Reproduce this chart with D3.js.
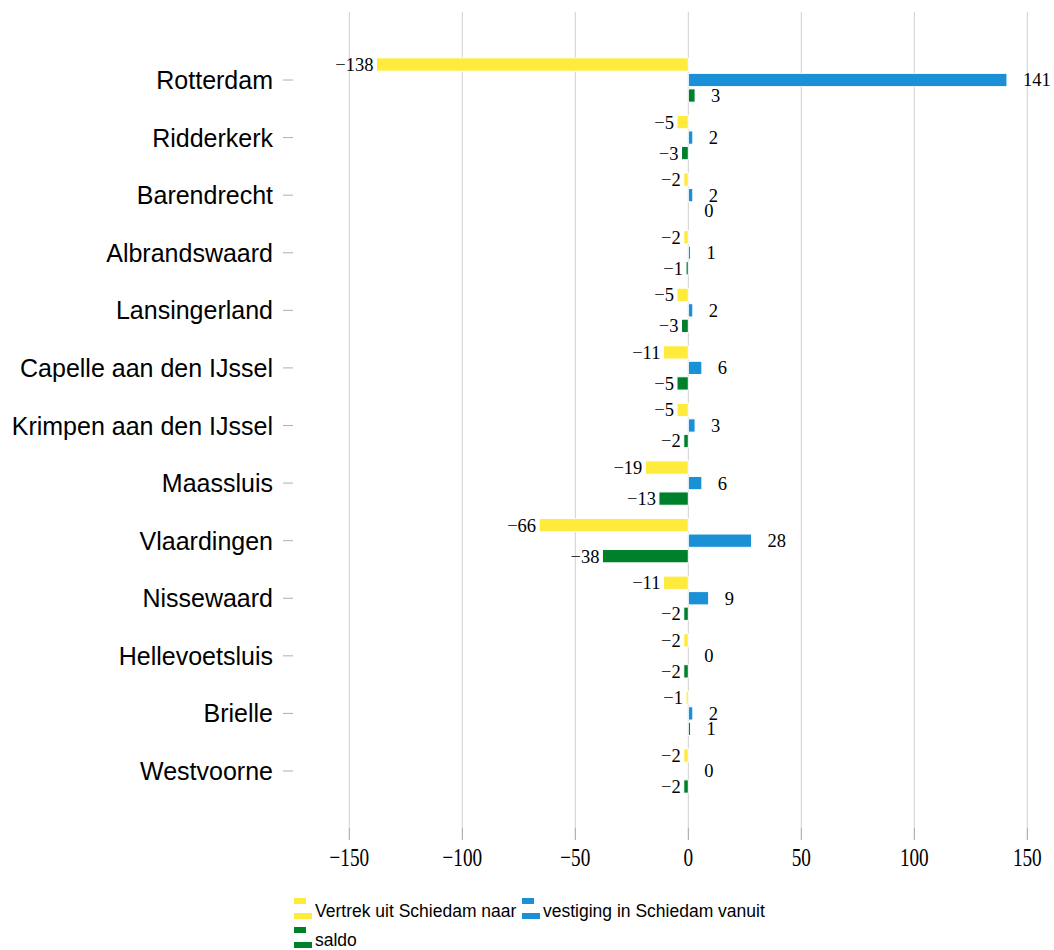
<!DOCTYPE html>
<html>
<head>
<meta charset="utf-8">
<script src="https://cdn.jsdelivr.net/npm/d3@7"></script>
<style>
  body { margin: 0; background: #fff; }
  svg { display: block; }
</style>
</head>
<body>
<div id="chart"></div>
<script>
const gemeenten = ['Rotterdam', 'Ridderkerk', 'Barendrecht', 'Albrandswaard', 'Lansingerland',
  'Capelle aan den IJssel', 'Krimpen aan den IJssel', 'Maassluis', 'Vlaardingen', 'Nissewaard',
  'Hellevoetsluis', 'Brielle', 'Westvoorne'];
const vertrek = [-138, -5, -2, -2, -5, -11, -5, -19, -66, -11, -2, -1, -2];
const vestiging = [141, 2, 2, 1, 2, 6, 3, 6, 28, 9, 0, 2, 0];
const saldo = [3, -3, 0, -1, -3, -5, -2, -13, -38, -2, -2, 1, -2];
const seriesNames = ['Vertrek uit Schiedam naar', 'vestiging in Schiedam vanuit', 'saldo'];
const xTicks = [-150, -100, -50, 0, 50, 100, 150];

const width = 1054,
  height = 950;

const colors = ['#ffeb3b', '#1a90d6', '#00802b'];
const series = [vertrek, vestiging, saldo];

const svg = d3.select('#chart').append('svg')
  .attr('width', width)
  .attr('height', height);

const x = d3.scaleLinear()
  .domain([-150, 150])
  .range([349.3, 1027.3]);

const y = d3.scalePoint()
  .domain(gemeenten)
  .range([80, 771]);

const barH = 13.3,
  pitch = 15.5;

// grid
svg.append('g')
  .selectAll('line')
  .data(xTicks)
  .join('line')
    .attr('x1', (d) => x(d)).attr('x2', (d) => x(d))
    .attr('y1', 12).attr('y2', 828)
    .attr('stroke', '#cfcfcf')
    .attr('stroke-width', 1);

// x axis ticks + labels
const xAxis = svg.append('g');
xAxis.selectAll('line')
  .data(xTicks)
  .join('line')
    .attr('x1', (d) => x(d)).attr('x2', (d) => x(d))
    .attr('y1', 828).attr('y2', 840)
    .attr('stroke', '#a0a0a0');
xAxis.selectAll('text')
  .data(xTicks)
  .join('text')
    .attr('transform', (d) => `translate(${x(d)},866) scale(0.74,1)`)
    .attr('text-anchor', 'middle')
    .style('font-family', '"Liberation Serif", "DejaVu Serif", serif')
    .style('font-size', '26px')
    .attr('fill', '#000')
    .text((d) => d3.format('d')(d));

// y axis
const yAxis = svg.append('g');
yAxis.selectAll('line')
  .data(gemeenten)
  .join('line')
    .attr('x1', 283).attr('x2', 293)
    .attr('y1', (d) => y(d)).attr('y2', (d) => y(d))
    .attr('stroke', '#b0b0b0');
yAxis.selectAll('text')
  .data(gemeenten)
  .join('text')
    .attr('x', 273)
    .attr('y', (d) => y(d))
    .attr('dy', '0.36em')
    .attr('text-anchor', 'end')
    .style('font-family', '"Liberation Sans", Arial, sans-serif')
    .style('font-size', '25px')
    .attr('fill', '#000')
    .text((d) => d);

// bars
series.forEach((vals, si) => {
  const g = svg.append('g');
  const rows = vals.map((v, i) => ({ name: gemeenten[i], v }));
  const cy = (d) => y(d.name) + (si - 1) * pitch;

  g.selectAll('rect')
    .data(rows)
    .join('rect')
      .attr('x', (d) => Math.min(x(0), x(d.v)))
      .attr('y', (d) => cy(d) - barH / 2)
      .attr('width', (d) => Math.abs(x(d.v) - x(0)))
      .attr('height', barH)
      .attr('fill', colors[si])
      .attr('stroke', '#fff')
      .attr('stroke-width', 1);

  g.selectAll('text')
    .data(rows)
    .join('text')
      .attr('x', (d) => d.v < 0 ? x(d.v) - 3 : x(d.v) + 16)
      .attr('y', cy)
      .attr('dy', '0.35em')
      .attr('text-anchor', (d) => d.v < 0 ? 'end' : 'start')
      .style('font-family', '"Liberation Serif", "DejaVu Serif", serif')
      .style('font-size', '18.5px')
      .attr('fill', '#000')
      .text((d) => d3.format('d')(d.v));
});

// legend
const legendPos = [[294, 917], [522, 917], [294, 946]];
const legend = svg.append('g')
  .selectAll('g')
  .data(seriesNames)
  .join('g')
    .attr('transform', (d, i) => `translate(${legendPos[i][0]},${legendPos[i][1]})`);

legend.append('rect')
  .attr('x', 0).attr('y', -19)
  .attr('width', 12).attr('height', 6)
  .attr('fill', (d, i) => colors[i]);
legend.append('rect')
  .attr('x', 0).attr('y', -4)
  .attr('width', 18).attr('height', 6)
  .attr('fill', (d, i) => colors[i]);
legend.append('text')
  .attr('x', 21)
  .attr('y', 0)
  .style('font-family', '"Liberation Sans", Arial, sans-serif')
  .style('font-size', '17.5px')
  .attr('fill', '#000')
  .text((d) => d);
</script>
</body>
</html>
